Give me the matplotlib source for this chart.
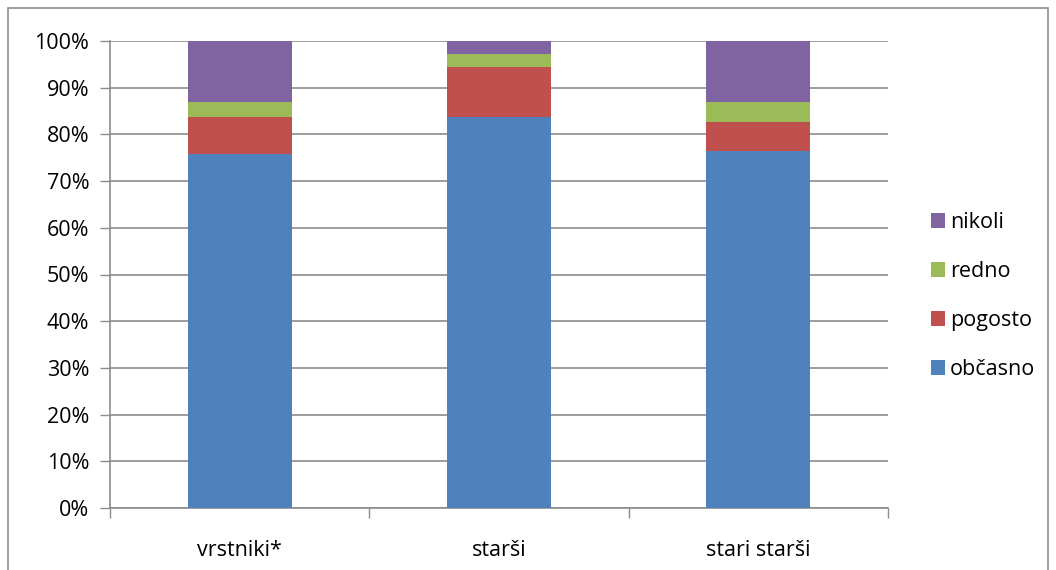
import matplotlib
matplotlib.use("Agg")
import matplotlib.pyplot as plt
import numpy as np
from matplotlib.patches import Rectangle
from matplotlib.ticker import FixedLocator, NullFormatter

categories = ['vrstniki*', 'starši', 'stari starši']
series_names = ['občasno', 'pogosto', 'redno', 'nikoli']
obcasno = [75.7, 83.7, 76.5]
pogosto = [8.0, 10.7, 6.2]
redno = [3.2, 2.8, 4.3]
nikoli = [13.1, 2.8, 13.0]
colors = ['#4F81BD', '#C0504D', '#9BBB59', '#8064A2']

plt.rcParams['font.family'] = ['Open Sans', 'DejaVu Sans']
FS = 15.5

fig = plt.figure(figsize=(10.56, 5.70), dpi=100)
ax = fig.add_axes([110 / 1056, 1 - 508 / 570, 778 / 1056, 467 / 570])

x = np.arange(len(categories))
bottom = np.zeros(len(categories))
handles = []
for name, vals, col in zip(series_names, [obcasno, pogosto, redno, nikoli], colors):
    b = ax.bar(x, vals, bottom=bottom, width=0.4, color=col, label=name, zorder=3)
    handles.append(b)
    bottom += np.array(vals)

ax.set_xlim(-0.5, 2.5)
ax.set_ylim(0, 100)
ax.set_yticks(np.arange(0, 101, 10))
ax.set_yticklabels([f'{v}%' for v in range(0, 101, 10)], fontsize=FS)
ax.yaxis.grid(True, color='#8c8c8c', linewidth=1.2, zorder=0)

ax.set_xticks(x)
ax.set_xticklabels(categories, fontsize=FS)
ax.tick_params(axis='x', which='major', length=0, pad=23)
ax.xaxis.set_minor_locator(FixedLocator([-0.5, 0.5, 1.5, 2.5]))
ax.xaxis.set_minor_formatter(NullFormatter())
ax.tick_params(axis='x', which='minor', length=7, color='#8c8c8c', width=1)
ax.tick_params(axis='y', length=7, color='#8c8c8c', width=1, pad=8)

for s in ['top', 'right']:
    ax.spines[s].set_visible(False)
for s in ['left', 'bottom']:
    ax.spines[s].set_color('#8c8c8c')
    ax.spines[s].set_linewidth(1.2)

leg = fig.legend(handles[::-1], series_names[::-1], loc='center left',
                 bbox_to_anchor=(922 / 1056, 1 - 296 / 570), frameon=False,
                 fontsize=FS, handlelength=0.65, handleheight=0.65,
                 handletextpad=0.25, labelspacing=1.3, borderaxespad=0)

fig.patches.append(Rectangle((8 / 1056, -0.02), 1040 / 1056, 1 - 8 / 570 + 0.02,
                             transform=fig.transFigure, fill=False,
                             edgecolor='#8c8c8c', linewidth=1.2))

fig.savefig('out.png', dpi=100)
